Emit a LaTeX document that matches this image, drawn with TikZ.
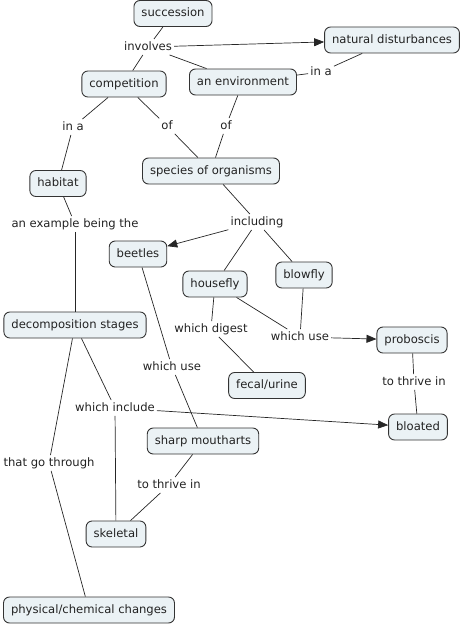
\documentclass[tikz,border=0pt]{standalone}
\usepackage{fontspec}
\setmainfont{DejaVu Sans}
\usetikzlibrary{arrows.meta}
\definecolor{boxfill}{HTML}{EBF2F5}
\definecolor{boxline}{HTML}{333333}
\definecolor{txt}{HTML}{222222}
\tikzset{
  concept/.style={draw=boxline, line width=0.9pt, fill=boxfill, rounded corners=6pt,
    inner xsep=7.5pt, minimum height=26pt, text height=9pt, text depth=2.5pt,
    font=\fontsize{11.6}{13}\selectfont, text=txt},
  lbl/.style={inner sep=2pt, font=\fontsize{11.6}{13}\selectfont, text=txt,
    text height=9pt, text depth=2.5pt},
  conn/.style={draw=black!85, line width=0.7pt},
  arr/.style={conn, -{Triangle[length=10pt,width=8pt]}},
}
\begin{document}
\begin{tikzpicture}[x=1pt,y=-1pt]
\useasboundingbox (0,0) rectangle (464,626);
% concepts
\node[concept] (succ) at (173,13.5) {succession};
\node[concept] (natd) at (392,40) {natural disturbances};
\node[concept] (comp) at (124,84) {competition};
\node[concept] (env) at (243,82) {an environment};
\node[concept] (spec) at (211,171) {species of organisms};
\node[concept] (hab) at (58,183.5) {habitat};
\node[concept] (beet) at (138,254) {beetles};
\node[concept] (house) at (215,284) {housefly};
\node[concept] (blow) at (304,275) {blowfly};
\node[concept] (decomp) at (75,325) {decomposition stages};
\node[concept] (prob) at (412,340) {proboscis};
\node[concept] (fecal) at (267,385.5) {fecal/urine};
\node[concept] (bloat) at (418,427) {bloated};
\node[concept] (sharp) at (203,441) {sharp moutharts};
\node[concept] (skel) at (116,534) {skeletal};
\node[concept] (phys) at (89,610) {physical/chemical changes};
% labels
\node[lbl] (l1) at (148,47) {involves};
\node[lbl] (l2) at (321,72) {in a};
\node[lbl] (l3) at (73,127) {in a};
\node[lbl] (l4) at (167,126) {of};
\node[lbl] (l5) at (226,126) {of};
\node[lbl] (l6) at (75,224) {an example being the};
\node[lbl] (l7) at (257,222) {including};
\node[lbl] (l8) at (211,329) {which digest};
\node[lbl] (l9) at (300,337) {which use};
\node[lbl] (l10) at (172,367) {which use};
\node[lbl] (l11) at (414,382) {to thrive in};
\node[lbl] (l12) at (115,408) {which include};
\node[lbl] (l13) at (49,463) {that go through};
\node[lbl] (l14) at (169,485) {to thrive in};
% connectors
\draw[conn] (succ) -- (l1);
\draw[arr] (l1) -- (natd);
\draw[conn] (l1) -- (comp);
\draw[conn] (l1) -- (env);
\draw[conn] (natd) -- (l2);
\draw[conn] (l2) -- (env);
\draw[conn] (comp) -- (l3);
\draw[conn] (l3) -- (hab);
\draw[conn] (comp) -- (l4);
\draw[conn] (l4) -- (spec);
\draw[conn] (env) -- (l5);
\draw[conn] (l5) -- (spec);
\draw[conn] (hab) -- (l6);
\draw[conn] (l6) -- (decomp);
\draw[conn] (spec) -- (l7);
\draw[arr] (l7) -- (beet);
\draw[conn] (l7) -- (house);
\draw[conn] (l7) -- (blow);
\draw[conn] (house) -- (l8);
\draw[conn] (l8) -- (fecal);
\draw[conn] (house) -- (l9);
\draw[conn] (blow) -- (l9);
\draw[arr] (l9) -- (prob);
\draw[conn] (beet) -- (l10);
\draw[conn] (l10) -- (sharp);
\draw[conn] (prob) -- (l11);
\draw[conn] (l11) -- (bloat);
\draw[conn] (decomp) -- (l12);
\draw[arr] (l12) -- (bloat);
\draw[conn] (l12) -- (skel);
\draw[conn] (decomp) -- (l13);
\draw[conn] (l13) -- (phys);
\draw[conn] (sharp) -- (l14);
\draw[conn] (l14) -- (skel);
\end{tikzpicture}
\end{document}
